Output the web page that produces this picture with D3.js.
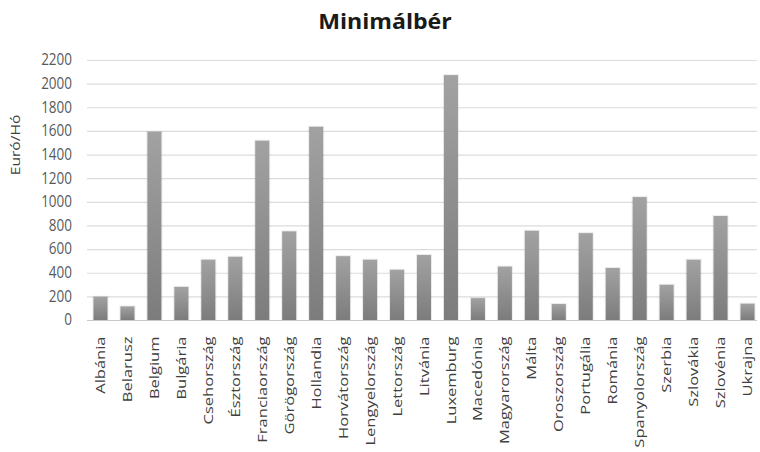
<!DOCTYPE html>
<html>
<head>
<meta charset="utf-8">
<script src="https://cdn.jsdelivr.net/npm/d3@7"></script>
<style>
  body { margin: 0; background: #fff; }
  text { font-family: "Open Sans", sans-serif; }
</style>
</head>
<body>
<div id="chart"></div>
<script>
// data
const countries = ["Albánia", "Belarusz", "Belgium", "Bulgária", "Csehország", "Észtország",
  "Franciaország", "Görögország", "Hollandia", "Horvátország", "Lengyelország", "Lettország",
  "Litvánia", "Luxemburg", "Macedónia", "Magyarország", "Málta", "Oroszország", "Portugália",
  "Románia", "Spanyolország", "Szerbia", "Szlovákia", "Szlovénia", "Ukrajna"];
const wages = [197, 115, 1593, 280, 510, 535, 1517, 750, 1635, 540, 510, 425,
  550, 2072, 185, 452, 755, 135, 735, 440, 1040, 298, 510, 880, 138];
const yTicks = [0, 200, 400, 600, 800, 1000, 1200, 1400, 1600, 1800, 2000, 2200];

const svgWidth = 760;
const svgHeight = 452;
const margin = { top: 60, right: 0, bottom: 132, left: 87 };

const svg = d3.select("#chart")
  .append("svg")
  .attr("width", svgWidth)
  .attr("height", svgHeight);

// gradient for the bars
const grad = svg.append("defs").append("linearGradient")
  .attr("id", "barGrad")
  .attr("x1", 0).attr("y1", 0).attr("x2", 0).attr("y2", 1);
grad.append("stop").attr("offset", "0%").attr("stop-color", "#a2a2a2");
grad.append("stop").attr("offset", "100%").attr("stop-color", "#7c7c7c");

const XScale = d3.scaleBand(countries, [margin.left, svgWidth - margin.right + 1])
  .paddingInner(0.48).paddingOuter(0.24);
const YScale = d3.scaleLinear([0, 2200], [svgHeight - margin.bottom, margin.top]);

// grid lines
svg.append("g")
  .selectAll("line")
  .data(yTicks)
  .enter()
  .append("line")
  .attr("x1", margin.left)
  .attr("x2", svgWidth - 3)
  .attr("y1", d => YScale(d) + 0.5)
  .attr("y2", d => YScale(d) + 0.5)
  .attr("stroke", d => d === 0 ? "#c8c8c8" : "#dcdcdc")
  .attr("stroke-width", 1.2);

// y axis labels (the picture is stretched a bit vertically)
const YAxis = d3.axisLeft(YScale).tickValues(yTicks).tickFormat(d3.format("d"))
  .tickSize(0).tickPadding(15);
svg.append("g")
  .attr("transform", `translate(${margin.left},0)`)
  .call(YAxis)
  .call(g => g.select(".domain").remove())
  .selectAll("text")
  .attr("y", 0)
  .attr("dy", "0.3em")
  .attr("transform", "scale(1,1.2)")
  .style("font-size", "13.5px")
  .style("fill", "#595959");

// bar shadows
svg.selectAll(".shadow")
  .data(wages)
  .enter()
  .append("rect")
  .attr("class", "shadow")
  .attr("x", (d, i) => XScale(countries[i]) - 1)
  .attr("y", d => YScale(d) - 1)
  .attr("width", XScale.bandwidth() + 2)
  .attr("height", d => YScale(0) - YScale(d) + 1)
  .attr("fill", "#000")
  .attr("opacity", 0.08);

// bars
svg.selectAll(".bar")
  .data(wages)
  .enter()
  .append("rect")
  .attr("class", "bar")
  .attr("x", (d, i) => XScale(countries[i]))
  .attr("y", d => YScale(d))
  .attr("width", XScale.bandwidth())
  .attr("height", d => YScale(0) - YScale(d))
  .attr("fill", "url(#barGrad)");

// x axis labels
const XAxis = d3.axisBottom(XScale).tickSize(0).tickPadding(0);
svg.append("g")
  .attr("transform", `translate(0,${YScale(0)})`)
  .call(XAxis)
  .call(g => g.select(".domain").remove())
  .selectAll("text")
  .attr("transform", "rotate(-90) scale(1.27,1)")
  .attr("x", -13)
  .attr("y", 0)
  .attr("dy", "0.35em")
  .style("text-anchor", "end")
  .style("font-size", "13px")
  .style("fill", "#404040");

// y axis title
svg.append("text")
  .attr("transform", "rotate(-90) scale(1.2,1)")
  .attr("x", -145 / 1.2)
  .attr("y", 20)
  .style("text-anchor", "middle")
  .style("font-size", "13px")
  .style("fill", "#404040")
  .text("Euró/Hó");

// title
svg.append("text")
  .attr("transform", "scale(1.1,1)")
  .attr("x", 385 / 1.1)
  .attr("y", 29)
  .style("text-anchor", "middle")
  .style("font-size", "21px")
  .style("font-weight", "bold")
  .style("fill", "#1a1a1a")
  .text("Minimálbér");
</script>
</body>
</html>
